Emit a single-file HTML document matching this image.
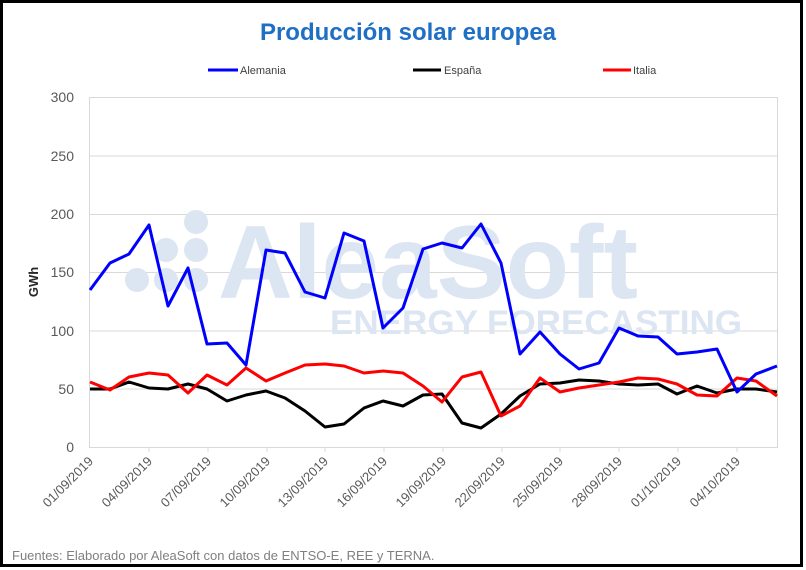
<!DOCTYPE html>
<html><head><meta charset="utf-8"><style>
html,body{margin:0;padding:0;background:#fff;}
svg{display:block;font-family:"Liberation Sans",sans-serif;}
</style></head><body>
<svg width="806" height="570" viewBox="0 0 806 570" xmlns="http://www.w3.org/2000/svg">
<rect x="1.5" y="1.5" width="800" height="564" fill="#fff" stroke="#000" stroke-width="3"/>
<text x="408" y="40" text-anchor="middle" font-size="24" font-weight="bold" fill="#1f6fc5">Producción solar europea</text>
<g font-size="11" fill="#404040">
<line x1="208" y1="70" x2="238" y2="70" stroke="#0000ff" stroke-width="3"/><text x="240" y="74">Alemania</text>
<line x1="413" y1="70" x2="441" y2="70" stroke="#000" stroke-width="3"/><text x="444" y="74">España</text>
<line x1="603" y1="70" x2="631" y2="70" stroke="#ff0000" stroke-width="3"/><text x="633" y="74">Italia</text>
</g>
<g stroke="#d9d9d9" stroke-width="1">
<line x1="89" y1="97.5" x2="777" y2="97.5"/><line x1="89" y1="156" x2="777" y2="156"/><line x1="89" y1="214.5" x2="777" y2="214.5"/><line x1="89" y1="272.5" x2="777" y2="272.5"/><line x1="89" y1="331" x2="777" y2="331"/><line x1="89" y1="389" x2="777" y2="389"/><line x1="89" y1="447.5" x2="777" y2="447.5"/>
<line x1="89.5" y1="97" x2="89.5" y2="448"/><line x1="777.5" y1="97" x2="777.5" y2="448"/>
<line x1="149" y1="447" x2="149" y2="452"/><line x1="208" y1="447" x2="208" y2="452"/><line x1="267" y1="447" x2="267" y2="452"/><line x1="325" y1="447" x2="325" y2="452"/><line x1="384" y1="447" x2="384" y2="452"/><line x1="443" y1="447" x2="443" y2="452"/><line x1="502" y1="447" x2="502" y2="452"/><line x1="560" y1="447" x2="560" y2="452"/><line x1="619" y1="447" x2="619" y2="452"/><line x1="678" y1="447" x2="678" y2="452"/><line x1="737" y1="447" x2="737" y2="452"/>
</g>
<g fill="#dce5f2" font-weight="bold">
<circle cx="196" cy="222" r="12"/><circle cx="166" cy="250" r="12"/><circle cx="196" cy="250" r="12"/><circle cx="137" cy="280" r="12"/><circle cx="166" cy="280" r="12"/><circle cx="196" cy="280" r="12"/>
<text x="218" y="298" font-size="104" textLength="420" lengthAdjust="spacingAndGlyphs">AleaSoft</text>
<text x="330" y="334" font-size="34" textLength="412" lengthAdjust="spacingAndGlyphs">ENERGY FORECASTING</text>
</g>
<g font-size="14" fill="#595959" text-anchor="end">
<text x="74" y="102">300</text><text x="74" y="161">250</text><text x="74" y="219">200</text><text x="74" y="277">150</text><text x="74" y="336">100</text><text x="74" y="394">50</text><text x="74" y="452">0</text>
</g>
<text transform="translate(38,282) rotate(-90)" font-size="13" font-weight="bold" fill="#262626" text-anchor="middle">GWh</text>
<g font-size="13" fill="#595959" text-anchor="end">
<text transform="translate(94,462) rotate(-45)">01/09/2019</text>
<text transform="translate(153,462) rotate(-45)">04/09/2019</text>
<text transform="translate(212,462) rotate(-45)">07/09/2019</text>
<text transform="translate(271,462) rotate(-45)">10/09/2019</text>
<text transform="translate(329,462) rotate(-45)">13/09/2019</text>
<text transform="translate(388,462) rotate(-45)">16/09/2019</text>
<text transform="translate(447,462) rotate(-45)">19/09/2019</text>
<text transform="translate(506,462) rotate(-45)">22/09/2019</text>
<text transform="translate(564,462) rotate(-45)">25/09/2019</text>
<text transform="translate(623,462) rotate(-45)">28/09/2019</text>
<text transform="translate(682,462) rotate(-45)">01/10/2019</text>
<text transform="translate(741,462) rotate(-45)">04/10/2019</text>
</g>
<g fill="none" stroke-width="3" stroke-linejoin="round">
<polyline stroke="#000" points="90,389 110,389 129,382 149,388 168,389 188,384 207,389 227,401 246,395 266,391 285,398 305,411 325,427 344,424 364,408 383,401 403,406 423,395 442,394 462,423 481,428 501,414 520,396 540,384 560,383 579,380 599,381 619,384 638,385 658,384 677,394 697,386 717,393 737,389 756,389 777,392"/>
<polyline stroke="#ff0000" points="90,382 110,390 129,377 149,373 168,375 188,393 207,375 227,385 246,368 266,381 285,373 305,365 325,364 344,366 364,373 383,371 403,373 423,386 442,402 462,377 481,372 501,416 520,406 540,378 560,392 579,388 599,385 619,382 638,378 658,379 677,384 697,395 717,396 737,378 756,381 777,396"/>
<polyline stroke="#0000ff" points="90,290 110,263 129,254 149,225 168,306 188,268 207,344 227,343 246,365 266,250 285,253 305,292 325,298 344,233 364,241 383,328 403,308 423,249 442,243 462,248 481,224 501,263 520,354 540,332 560,354 579,369 599,363 619,328 638,336 658,337 677,354 697,352 717,349 737,392 756,374 777,366"/>
</g>
<text x="12" y="560" font-size="13" fill="#7f7f7f">Fuentes: Elaborado por AleaSoft con datos de ENTSO-E, REE y TERNA.</text>
</svg>
</body></html>
